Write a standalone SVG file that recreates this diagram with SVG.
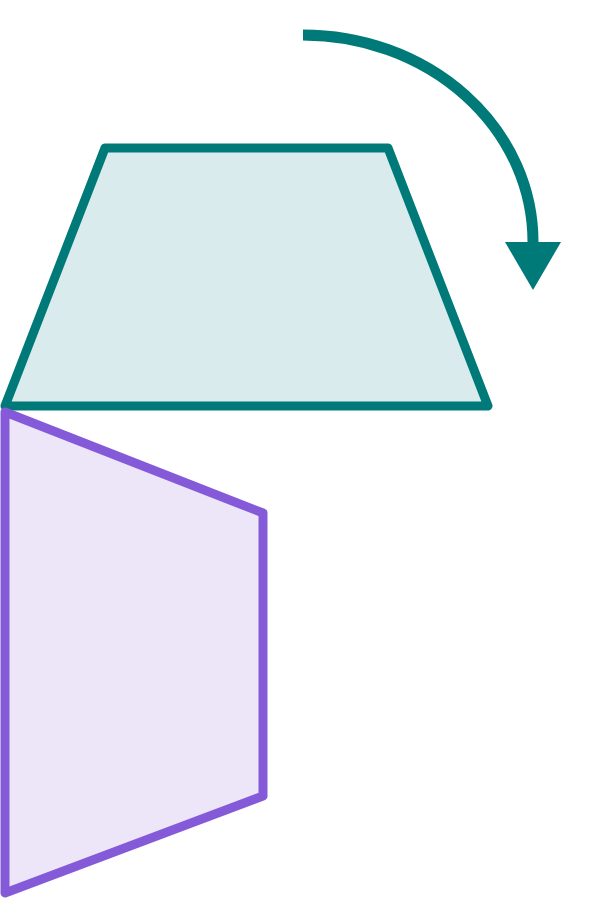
<svg xmlns="http://www.w3.org/2000/svg" width="613" height="901" viewBox="0 0 613 901">
<style>
.teal{fill:#D9EBED;stroke:#007A78;stroke-width:9;stroke-linejoin:round}
.purple{fill:#EDE6F8;stroke:#855AD8;stroke-width:9;stroke-linejoin:round}
.arc{fill:none;stroke:#007A78;stroke-width:11}
.head{fill:#007A78}
</style>
<g id="top-trapezoid"><polygon class="teal" points="105,148 388,148 488,406 5,406"/></g>
<g id="bottom-trapezoid"><polygon class="purple" points="5,412 263,513 263,796 5,893"/></g>
<g id="connectors">
<path class="arc" d="M303,35 A230,207 0 0 1 533,242"/>
<polygon class="head" points="505,242 561,242 533,290"/>
</g>
</svg>
